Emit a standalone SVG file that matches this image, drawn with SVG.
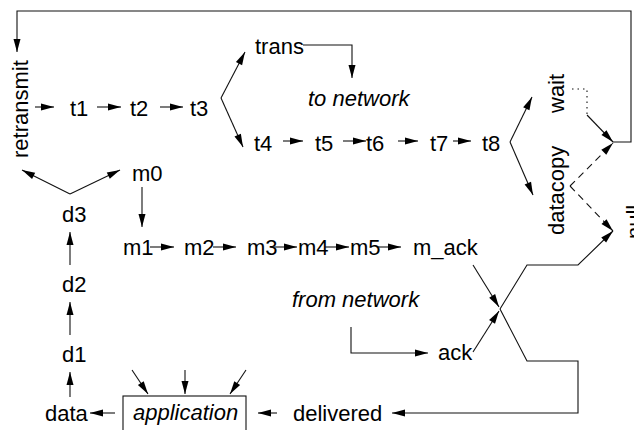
<svg xmlns="http://www.w3.org/2000/svg" width="634" height="430" viewBox="0 0 634 430">
  <style>
    text { font-family: "Liberation Sans", Arial, sans-serif; font-size: 22px; fill: #000; }
    .it { font-style: italic; }
    .ln { fill: none; stroke: #111; stroke-width: 1.1; }
    .arr { marker-end: url(#ah); }
    .dot { stroke-dasharray: 1.5 4; }
    .dash { stroke-dasharray: 7 5; }
  </style>
  <defs>
    <marker id="ah" markerUnits="userSpaceOnUse" markerWidth="14" markerHeight="8" refX="13" refY="3.5" orient="auto" overflow="visible">
      <path d="M0,0 L13,3.5 L0,7 Z" fill="#000"/>
    </marker>
  </defs>

  <rect width="634" height="430" fill="#fff"/>

  <!-- states -->
  <g id="retransmit"><text transform="translate(28,158) rotate(-90)">retransmit</text></g>
  <g id="t1"><text x="70" y="116">t1</text></g>
  <g id="t2"><text x="130" y="116">t2</text></g>
  <g id="t3"><text x="190" y="116">t3</text></g>
  <g id="trans"><text x="255" y="54">trans</text></g>
  <g id="to-network"><text class="it" x="308" y="106">to network</text></g>
  <g id="t4"><text x="254" y="151">t4</text></g>
  <g id="t5"><text x="315" y="151">t5</text></g>
  <g id="t6"><text x="366" y="151">t6</text></g>
  <g id="t7"><text x="430" y="151">t7</text></g>
  <g id="t8"><text x="482" y="151">t8</text></g>
  <g id="wait"><text transform="translate(564,113) rotate(-90)">wait</text></g>
  <g id="datacopy"><text transform="translate(564,235) rotate(-90)">datacopy</text></g>
  <g id="null"><text transform="translate(642,239) rotate(-90)">null</text></g>
  <g id="m0"><text x="132" y="181">m0</text></g>
  <g id="m1"><text x="123" y="255">m1</text></g>
  <g id="m2"><text x="184" y="255">m2</text></g>
  <g id="m3"><text x="247" y="255">m3</text></g>
  <g id="m4"><text x="298" y="255">m4</text></g>
  <g id="m5"><text x="350" y="255">m5</text></g>
  <g id="m_ack"><text x="413" y="255">m_ack</text></g>
  <g id="from-network"><text class="it" x="292" y="307">from network</text></g>
  <g id="ack"><text x="438" y="360">ack</text></g>
  <g id="d3"><text x="62" y="222">d3</text></g>
  <g id="d2"><text x="62" y="292">d2</text></g>
  <g id="d1"><text x="62" y="362">d1</text></g>
  <g id="data"><text x="45" y="421">data</text></g>
  <g id="application">
    <rect x="123" y="396" width="123" height="50" fill="none" stroke="#111" stroke-width="1.1"/>
    <text class="it" x="133" y="420">application</text>
  </g>
  <g id="delivered"><text x="293" y="421">delivered</text></g>

  <!-- transitions -->
  <g id="connectors" class="ln">
    <!-- timeout feedback loop -->
    <path class="arr" d="M613,142 H631 V11 H17 V52"/>
    <!-- t chain -->
    <line class="arr" x1="35" y1="107" x2="54" y2="107"/>
    <line class="arr" x1="97" y1="107" x2="121" y2="107"/>
    <line class="arr" x1="160" y1="107" x2="183" y2="107"/>
    <line class="arr" x1="221" y1="98" x2="245" y2="52"/>
    <line class="arr" x1="221" y1="98" x2="243" y2="147"/>
    <path class="arr" d="M303,45 H352 V78"/>
    <line class="arr" x1="283" y1="141" x2="303" y2="141"/>
    <line class="arr" x1="343" y1="141" x2="366" y2="141"/>
    <line class="arr" x1="398" y1="141" x2="418" y2="141"/>
    <line class="arr" x1="453" y1="141" x2="471" y2="141"/>
    <line class="arr" x1="510" y1="142" x2="532" y2="97"/>
    <line class="arr" x1="510" y1="142" x2="533" y2="195"/>
    <!-- wait / datacopy -->
    <path class="dot" d="M572,89 H587 V115"/>
    <line class="arr" x1="587" y1="115" x2="613" y2="142"/>
    <line class="arr dash" x1="570" y1="186" x2="613" y2="143"/>
    <line class="arr dash" x1="570" y1="186" x2="613" y2="231"/>
    <!-- d chain -->
    <line class="arr" x1="70" y1="194" x2="22" y2="170"/>
    <line class="arr" x1="70" y1="194" x2="120" y2="170"/>
    <line class="arr" x1="142" y1="187" x2="142" y2="227"/>
    <line class="arr" x1="70" y1="265" x2="70" y2="232"/>
    <line class="arr" x1="70" y1="335" x2="70" y2="302"/>
    <line class="arr" x1="70" y1="397" x2="70" y2="372"/>
    <!-- m chain -->
    <line class="arr" x1="150" y1="247" x2="174" y2="247"/>
    <line class="arr" x1="213" y1="247" x2="236" y2="247"/>
    <line class="arr" x1="272" y1="247" x2="297" y2="247"/>
    <line class="arr" x1="325" y1="247" x2="349" y2="247"/>
    <line class="arr" x1="378" y1="247" x2="401" y2="247"/>
    <!-- ack crossing -->
    <line class="arr" x1="473" y1="265" x2="499" y2="307"/>
    <line class="arr" x1="473" y1="352" x2="499" y2="311"/>
    <path class="arr" d="M500,309 L527,265 H578 L613,231"/>
    <path class="arr" d="M500,309 L527,361 H578 V413 H392"/>
    <path class="arr" d="M351,327 V353 H428"/>
    <!-- application -->
    <line class="arr" x1="115" y1="413" x2="90" y2="413"/>
    <line class="arr" x1="277" y1="413" x2="258" y2="413"/>
    <line class="arr" x1="132" y1="370" x2="148" y2="394"/>
    <line class="arr" x1="185" y1="370" x2="185" y2="394"/>
    <line class="arr" x1="246" y1="370" x2="230" y2="394"/>
  </g>
</svg>
